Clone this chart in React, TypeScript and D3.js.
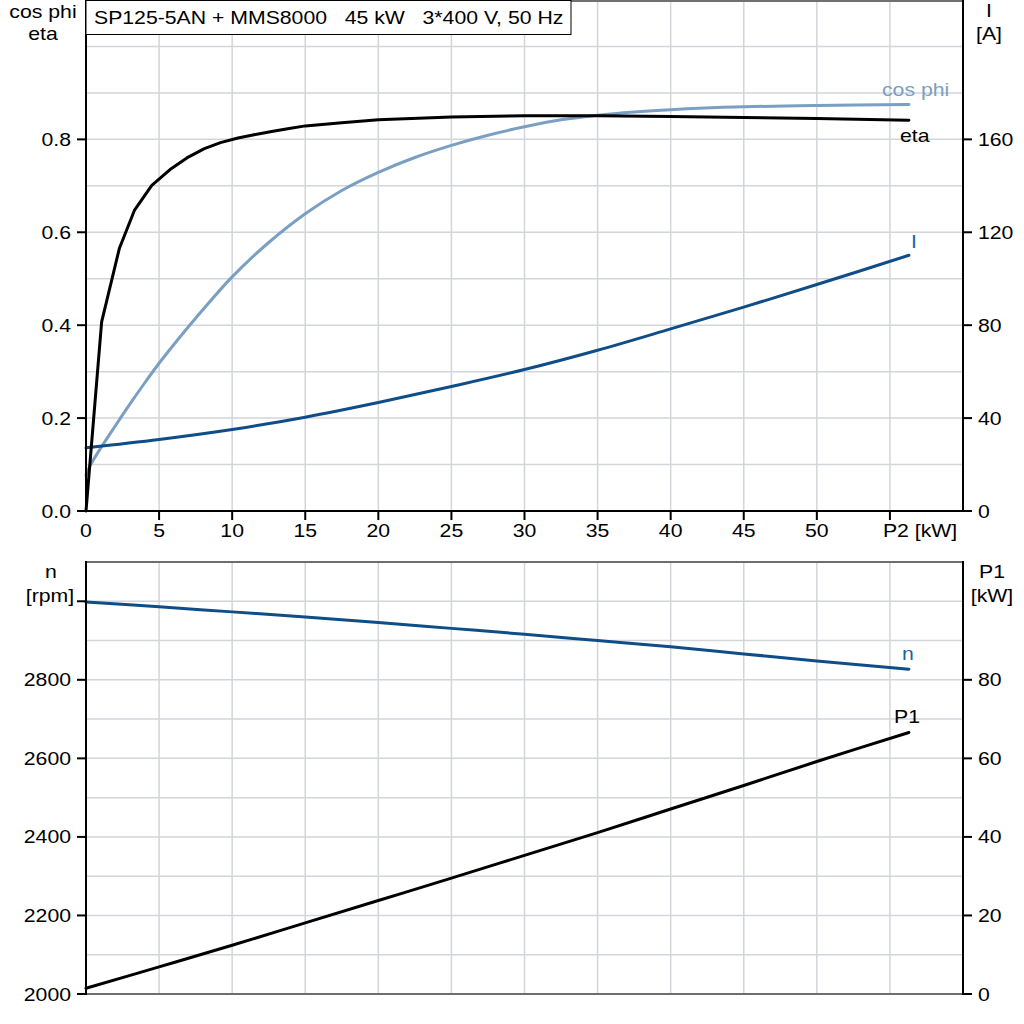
import React from "react";
import * as d3 from "d3";

// ---------- data ----------
const title = "SP125-5AN + MMS8000   45 kW   3*400 V, 50 Hz";

const xTicks = [0, 5, 10, 15, 20, 25, 30, 35, 40, 45, 50];
const xGrid = [5, 10, 15, 20, 25, 30, 35, 40, 45, 50, 55];
const cosTicks = [0, 0.2, 0.4, 0.6, 0.8];
const cosGrid = [0.1, 0.2, 0.3, 0.4, 0.5, 0.6, 0.7, 0.8, 0.9, 1.0];
const iTicks = [0, 40, 80, 120, 160];
const nTicks = [2000, 2200, 2400, 2600, 2800];
const nGrid = [2100, 2200, 2300, 2400, 2500, 2600, 2700, 2800, 2900, 3000];
const p1Ticks = [0, 20, 40, 60, 80];

// P2 [kW] -> eta
const etaP2 = [0, 1.07, 2.28, 3.31, 4.5, 5.75, 6.9, 8.1, 9.2, 10.4, 11.5, 12.7, 13.8, 15, 17.5, 20, 25, 30, 35, 40, 45, 50, 56.3];
const etaVal = [0, 0.407, 0.565, 0.647, 0.701, 0.735, 0.76, 0.78, 0.793, 0.803, 0.81, 0.817, 0.823, 0.829, 0.836, 0.842, 0.848, 0.851, 0.851, 0.849, 0.847, 0.845, 0.841];

// P2 [kW] -> cos phi
const cosP2 = [0, 0.27, 1, 2, 3, 4, 5, 6, 7.5, 10, 12.5, 15, 17.5, 20, 22.5, 25, 27.5, 30, 32.5, 35, 37.5, 40, 45, 50, 56.3];
const cosVal = [0.077, 0.097, 0.135, 0.183, 0.23, 0.275, 0.318, 0.358, 0.415, 0.504, 0.578, 0.64, 0.69, 0.729, 0.761, 0.787, 0.809, 0.827, 0.842, 0.852, 0.859, 0.864, 0.87, 0.873, 0.875];

// P2 [kW] -> I [A]
const iP2 = [0, 5, 10, 15, 20, 25, 30, 35, 40, 45, 50, 56.3];
const iVal = [27.2, 30.8, 35.1, 40.4, 46.7, 53.6, 60.9, 69.2, 78.4, 87.8, 97.5, 110.1];

// P2 [kW] -> n [rpm]
const nP2 = [0, 5, 10, 15, 20, 25, 30, 35, 40, 45, 50, 56.3];
const nVal = [2998, 2986, 2973, 2960, 2946, 2931, 2916, 2900, 2884, 2866, 2848, 2827];

// P2 [kW] -> P1 [kW]
const p1P2 = [0, 5, 10, 15, 20, 25, 30, 35, 40, 45, 50, 56.3];
const p1Val = [1.45, 6.9, 12.4, 18.1, 23.8, 29.5, 35.3, 41.1, 47.1, 53.1, 59.2, 66.6];

// ---------- layout ----------
const L = 86;
const R = 963;
const T1 = 0;
const B1 = 511;
const T2 = 562;
const B2 = 994;

const FONT = "'Liberation Sans', Arial, sans-serif";
const FS = 18;
const SX = 1.18;

const C_ETA = "#000000";
const C_COS = "#7a9fc2";
const C_I = "#0e4d87";
const C_ILAB = "#1b62ad";
const C_GRID = "#d2d5d9";

const x = d3.scaleLinear().domain([0, 60]).range([L, R]);
const yCos = d3.scaleLinear().domain([0, 1.1]).range([B1, T1]);
const yI = d3.scaleLinear().domain([0, 220]).range([B1, T1]);
const yN = d3.scaleLinear().domain([2000, 3100]).range([B2, T2]);
const yP1 = d3.scaleLinear().domain([0, 110]).range([B2, T2]);

function Txt(props: {
  x: number;
  y: number;
  anchor?: "start" | "middle" | "end";
  fill?: string;
  children: React.ReactNode;
}) {
  return (
    <text
      transform={`translate(${props.x},${props.y}) scale(${SX},1)`}
      textAnchor={props.anchor || "start"}
      fill={props.fill || "#000"}
      fontFamily={FONT}
      fontSize={FS}
      style={{ whiteSpace: "pre" }}
    >
      {props.children}
    </text>
  );
}

function pathOf(xs: number[], ys: number[], yScale: (v: number) => number, curve: d3.CurveFactory) {
  const pts = xs.map((v, i) => [v, ys[i]] as [number, number]);
  return (
    d3
      .line<[number, number]>()
      .x((d) => x(d[0]))
      .y((d) => yScale(d[1]))
      .curve(curve)(pts) || ""
  );
}

export default function App() {
  const fmt1 = d3.format(".1f");
  const smooth = d3.curveCatmullRom.alpha(0.5);
  return (
    <div style={{ position: "absolute", left: 0, top: 0 }}>
      <svg width={1024} height={1024} xmlns="http://www.w3.org/2000/svg" style={{ display: "block", background: "#fff" }}>
        {/* ===== top chart ===== */}
        <g>
          {xGrid.map((v) => (
            <line key={"gx1" + v} x1={x(v)} x2={x(v)} y1={T1} y2={B1} stroke={C_GRID} strokeWidth={1.5} />
          ))}
          {cosGrid.map((v) => (
            <line key={"gy1" + v} x1={L} x2={R} y1={yCos(v)} y2={yCos(v)} stroke={C_GRID} strokeWidth={1.5} />
          ))}
          <line x1={L} x2={R} y1={T1 + 1} y2={T1 + 1} stroke="#707070" strokeWidth={2} />

          <path d={pathOf(cosP2, cosVal, yCos, smooth)} fill="none" stroke={C_COS} strokeWidth={3} strokeLinecap="round" />
          <path d={pathOf(iP2, iVal, yI, smooth)} fill="none" stroke={C_I} strokeWidth={3} strokeLinecap="round" />
          <path d={pathOf(etaP2, etaVal, yCos, d3.curveLinear)} fill="none" stroke={C_ETA} strokeWidth={3} strokeLinecap="round" strokeLinejoin="round" />

          {/* axes */}
          <line x1={L} x2={L} y1={T1} y2={B1 + 1} stroke="#000" strokeWidth={2} />
          <line x1={R} x2={R} y1={T1} y2={B1 + 1} stroke="#000" strokeWidth={2} />
          <line x1={L - 1} x2={R + 1} y1={B1} y2={B1} stroke="#000" strokeWidth={2} />
          {cosTicks.map((v) => (
            <g key={"ct" + v}>
              <line x1={L - 9} x2={L} y1={yCos(v)} y2={yCos(v)} stroke="#000" strokeWidth={2} />
              <Txt x={L - 15} y={yCos(v) + 6.5} anchor="end">
                {fmt1(v)}
              </Txt>
            </g>
          ))}
          {iTicks.map((v) => (
            <g key={"it" + v}>
              <line x1={R} x2={R + 9} y1={yI(v)} y2={yI(v)} stroke="#000" strokeWidth={2} />
              <Txt x={R + 15} y={yI(v) + 6.5}>
                {String(v)}
              </Txt>
            </g>
          ))}
          {xGrid.map((v) => (
            <line key={"xt" + v} x1={x(v)} x2={x(v)} y1={B1} y2={B1 + 9} stroke="#000" strokeWidth={2} />
          ))}
          {xTicks.map((v) => (
            <Txt key={"xl" + v} x={x(v)} y={B1 + 25.5} anchor="middle">
              {String(v)}
            </Txt>
          ))}
          <Txt x={x(55) - 7} y={B1 + 25.5}>
            P2 [kW]
          </Txt>

          {/* axis titles */}
          <Txt x={43} y={18} anchor="middle">cos phi</Txt>
          <Txt x={43} y={40} anchor="middle">eta</Txt>
          <Txt x={989} y={17} anchor="middle">I</Txt>
          <Txt x={989} y={40} anchor="middle">[A]</Txt>

          {/* curve labels */}
          <Txt x={882} y={96} fill={C_COS}>cos phi</Txt>
          <Txt x={900} y={142}>eta</Txt>
          <Txt x={914} y={248} anchor="middle" fill={C_ILAB}>I</Txt>

          {/* title box */}
          <rect x={L} y={0.5} width={485} height={34} fill="#fff" stroke="#000" strokeWidth={1} />
          <Txt x={94} y={24}>{title}</Txt>
        </g>

        {/* ===== bottom chart ===== */}
        <g>
          {xGrid.map((v) => (
            <line key={"gx2" + v} x1={x(v)} x2={x(v)} y1={T2} y2={B2} stroke={C_GRID} strokeWidth={1.5} />
          ))}
          {nGrid.map((v) => (
            <line key={"gy2" + v} x1={L} x2={R} y1={yN(v)} y2={yN(v)} stroke={C_GRID} strokeWidth={1.5} />
          ))}
          <line x1={L} x2={R} y1={T2} y2={T2} stroke="#6e6e6e" strokeWidth={2} />
          <line x1={L} x2={R} y1={B2} y2={B2} stroke="#6e6e6e" strokeWidth={2} />

          <path d={pathOf(nP2, nVal, yN, smooth)} fill="none" stroke={C_I} strokeWidth={3} strokeLinecap="round" />
          <path d={pathOf(p1P2, p1Val, yP1, smooth)} fill="none" stroke={C_ETA} strokeWidth={3} strokeLinecap="round" />

          <line x1={L} x2={L} y1={T2 - 1} y2={B2 + 1} stroke="#000" strokeWidth={2} />
          <line x1={R} x2={R} y1={T2 - 1} y2={B2 + 1} stroke="#000" strokeWidth={2} />
          {[...nTicks, 3000].map((v) => (
            <line key={"nt" + v} x1={L - 9} x2={L} y1={yN(v)} y2={yN(v)} stroke="#000" strokeWidth={2} />
          ))}
          {nTicks.map((v) => (
            <Txt key={"nl" + v} x={L - 15} y={yN(v) + 6.5} anchor="end">
              {String(v)}
            </Txt>
          ))}
          {p1Ticks.map((v) => (
            <g key={"pt" + v}>
              <line x1={R} x2={R + 9} y1={yP1(v)} y2={yP1(v)} stroke="#000" strokeWidth={2} />
              <Txt x={R + 15} y={yP1(v) + 6.5}>
                {String(v)}
              </Txt>
            </g>
          ))}

          <Txt x={51} y={578} anchor="middle">n</Txt>
          <Txt x={50} y={602} anchor="middle">[rpm]</Txt>
          <Txt x={992} y={578} anchor="middle">P1</Txt>
          <Txt x={992} y={602} anchor="middle">[kW]</Txt>

          <Txt x={908} y={660} anchor="middle" fill={C_ILAB}>n</Txt>
          <Txt x={907} y={723} anchor="middle">P1</Txt>
        </g>
      </svg>
    </div>
  );
}
